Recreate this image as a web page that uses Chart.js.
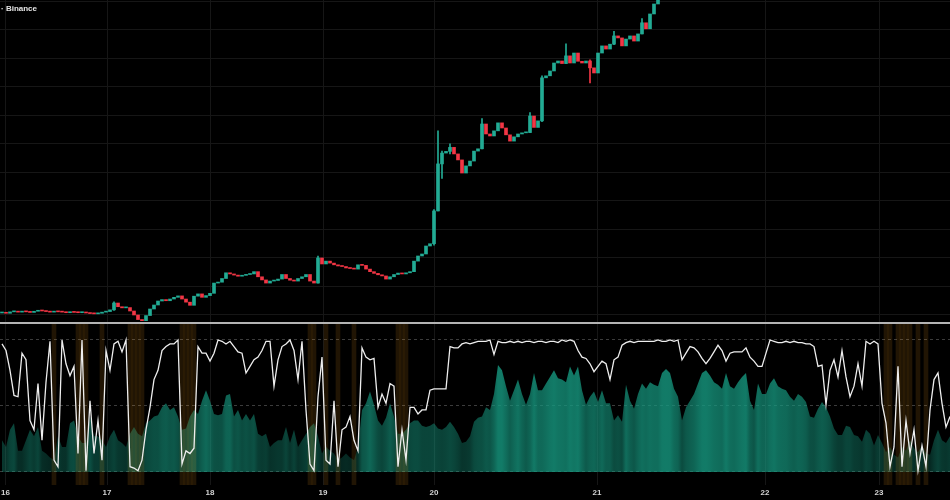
<!DOCTYPE html>
<html>
<head>
<meta charset="utf-8">
<script src="https://cdn.jsdelivr.net/npm/chart.js@4.4.1/dist/chart.umd.min.js"></script>
<style>
  html, body { margin: 0; padding: 0; background: #000; }
  #wrap { position: relative; width: 950px; height: 500px; background: #000; overflow: hidden; }
  #top { position: absolute; left: 0; top: 0; }
  #sep { position: absolute; left: 0; top: 322px; width: 950px; height: 2px; background: #b4b4b4; }
  #bottom { position: absolute; left: 0; top: 324px; }
  #title { position: absolute; left: 1px; top: 4px; color: #e6e6e6; font: 600 8px "Liberation Sans", Arial, sans-serif; }
</style>
</head>
<body>
<div id="wrap">
  <canvas id="top" width="950" height="322"></canvas>
  <div id="sep"></div>
  <canvas id="bottom" width="950" height="176"></canvas>
  <div id="title">· Binance</div>
</div>
<script>
// day labels on the time axis and where they sit (in bar units, 1 bar = 4px)
const dayLabels = ['16', '17', '18', '19', '20', '21', '22', '23'];
const dayPos = [1.375, 26.75, 52.5, 80.75, 108.5, 149.25, 191.25, 219.75];

// candle closes (price pane), open = previous close
const closes = [
  10.9, 10.6, 11.1, 11.3, 11.0, 11.2, 11.1, 10.9, 11.3, 11.6,
  11.4, 11.2, 11.0, 11.3, 11.1, 11.0, 10.8, 11.1, 10.9, 10.8,
  11.0, 10.7, 10.5, 10.4, 10.6, 11.0, 11.2, 11.8, 14.2, 12.9,
  12.5, 12.6, 11.4, 10.0, 8.4, 8.0, 9.8, 12.1, 13.5, 14.9,
  15.4, 15.0, 15.6, 16.2, 16.7, 15.6, 14.5, 13.4, 16.6, 17.4,
  16.2, 16.8, 17.6, 21.2, 21.5, 22.8, 24.8, 24.4, 24.0, 23.6,
  23.9, 24.2, 24.4, 25.2, 23.4, 22.3, 21.2, 21.9, 22.1, 22.6,
  24.2, 22.8, 22.2, 21.9, 22.8, 23.4, 24.2, 21.9, 21.2, 30.0,
  27.9, 28.9, 28.2, 27.6, 27.2, 27.0, 26.5, 26.3, 26.1, 27.6,
  27.4, 26.1, 25.2, 24.6, 24.1, 23.7, 22.6, 23.4, 24.2, 24.7,
  24.4, 24.8, 25.2, 28.9, 30.7, 31.4, 34.2, 35.0, 46.5, 63.0,
  66.8, 67.4, 68.8, 66.5, 64.4, 59.8, 62.3, 64.0, 67.5, 68.3,
  77.0, 73.5, 72.8, 74.6, 77.4, 75.6, 73.2, 71.0, 72.5, 73.5,
  73.9, 74.0, 79.8, 75.8, 78.1, 93.2, 93.9, 95.6, 98.4, 99.1,
  98.2, 100.9, 98.4, 101.9, 99.0, 98.4, 99.1, 96.7, 94.9, 101.9,
  104.4, 103.3, 105.0, 107.9, 107.2, 104.4, 106.8, 107.9, 106.1, 108.6,
  112.5, 110.4, 115.6, 119.1, 123.0, 126.0
];
// [bar, high, low] for the candles with visible wicks
const wicks = [
  [28, 14.6, 11.6], [79, 30.7, 21.2], [108, 47.0, 34.5], [109, 74.6, 46.5],
  [110, 67.5, 57.9], [112, 70.0, 66.5], [120, 78.9, 68.3], [132, 81.0, 74.0],
  [135, 93.9, 77.8], [141, 105.1, 98.2], [147, 99.5, 91.4], [153, 109.5, 104.8],
  [160, 114.0, 108.6]
];

// oscillator (white line), 0..100
const osc = [
  97, 92, 77, 58, 57, 90, 85, 39, 32, 67,
  24, 68, 99, 9, 4, 100, 82, 73, 80, 14,
  100, 1, 54, 14, 39, 9, 92, 77, 97, 99,
  91, 100, 4, 3, 1, 9, 32, 49, 70, 77,
  92, 95, 97, 97, 100, 6, 16, 14, 18, 95,
  90, 90, 84, 90, 100, 99, 97, 99, 95, 91,
  90, 75, 80, 85, 87, 92, 99, 99, 65, 85,
  95, 97, 100, 92, 70, 99, 47, 6, 1, 57,
  87, 9, 6, 54, 4, 32, 34, 42, 24, 16,
  94, 87, 85, 86, 49, 59, 52, 67, 65, 4,
  32, 9, 49, 49, 44, 47, 47, 62, 63, 63,
  63, 63, 95, 94, 94, 97, 98, 97, 98, 99,
  99, 99, 100, 89, 99, 98, 98, 99, 98, 99,
  98, 99, 99, 98, 99, 99, 98, 99, 99, 98,
  100, 99, 100, 99, 92, 87, 86, 82, 76, 80,
  84, 82, 70, 85, 87, 96, 98, 99, 98, 99,
  99, 99, 99, 99, 100, 99, 99, 100, 99, 100,
  85, 90, 95, 94, 91, 86, 82, 86, 91, 96,
  92, 84, 90, 91, 91, 91, 94, 87, 84, 80,
  80, 90, 100, 99, 98, 98, 99, 98, 99, 98,
  98, 97, 97, 95, 80, 81, 51, 77, 85, 72,
  92, 72, 57, 65, 82, 65, 99, 97, 99, 97,
  52, 37, 4, 19, 80, 4, 39, 14, 32, 1,
  20, 4, 47, 70, 75, 52, 34, 42
];

// teal area under the oscillator
const strength = [
  24, 19, 32, 37, 16, 16, 24, 32, 27, 34,
  16, 14, 11, 9, 27, 19, 19, 37, 39, 27,
  22, 22, 42, 27, 27, 24, 19, 27, 32, 24,
  22, 19, 29, 34, 29, 27, 37, 39, 42, 43,
  49, 52, 47, 49, 42, 32, 33, 42, 47, 44,
  54, 62, 54, 44, 43, 44, 58, 59, 42, 47,
  39, 44, 39, 44, 29, 27, 29, 19, 22, 24,
  24, 34, 22, 32, 19, 24, 29, 34, 37, 27,
  14, 19, 16, 14, 9, 11, 14, 11, 9, 19,
  47, 52, 61, 51, 39, 35, 41, 52, 42, 29,
  29, 32, 37, 39, 39, 35, 34, 35, 37, 33,
  32, 34, 38, 34, 29, 22, 23, 27, 38, 41,
  42, 49, 47, 59, 81, 77, 65, 54, 62, 70,
  59, 51, 59, 75, 62, 62, 67, 72, 77, 71,
  70, 68, 80, 73, 80, 62, 51, 57, 61, 53,
  62, 52, 52, 39, 43, 38, 66, 54, 48, 59,
  67, 63, 68, 66, 65, 75, 78, 75, 63, 57,
  39, 49, 54, 59, 67, 75, 77, 73, 68, 66,
  63, 75, 65, 63, 68, 72, 75, 54, 47, 67,
  59, 59, 67, 71, 65, 63, 62, 57, 54, 59,
  57, 53, 42, 41, 48, 53, 49, 42, 33, 28,
  28, 35, 34, 28, 27, 23, 32, 29, 20, 28,
  22, 15, 19, 13, 11, 19, 16, 24, 18, 15,
  20, 14, 13, 24, 32, 24, 22, 27
];

// bars with the orange background highlight
const shaded = [13, 19, 20, 21, 25, 32, 33, 34, 35, 45, 46, 47, 48, 77, 78, 81, 84, 88,
  99, 100, 101, 221, 222, 224, 225, 226, 227, 229, 231];

const UP = '#22ab94';
const DOWN = '#f23645';
const GRID = '#161616';

// build candle pieces
const bodies = [];
const bodyColors = [];
closes.forEach((c, i) => {
  const o = i === 0 ? 10.7 : closes[i - 1];
  bodies.push({ x: i + 0.5, y: [o, c] });
  bodyColors.push(c >= o ? UP : DOWN);
});
const wickData = wicks.map(w => ({ x: w[0] + 0.5, y: [w[2], w[1]] }));
const wickColors = wicks.map(w => bodyColors[w[0]]);

function xAxis(showLabels) {
  return {
    type: 'linear',
    min: 0,
    max: 237.5,
    offset: false,
    grid: { color: GRID, drawTicks: false, offset: false },
    border: { display: false },
    ticks: {
      display: showLabels,
      color: '#d2d2d2',
      font: { size: 8, weight: 'bold', family: 'Liberation Sans' },
      padding: 3,
      maxRotation: 0,
      autoSkip: false,
      callback: v => {
        const k = dayPos.indexOf(v);
        return k >= 0 ? dayLabels[k] : '';
      }
    },
    afterBuildTicks: s => { s.ticks = dayPos.map(v => ({ value: v })); },
    afterFit: s => {
      s.height = showLabels ? 15 : 0;
      s.paddingLeft = 0;
      s.paddingRight = 0;
    }
  };
}

new Chart(document.getElementById('top'), {
  type: 'bar',
  data: {
    datasets: [
      { data: wickData, backgroundColor: wickColors, barThickness: 1, grouped: false, order: 1 },
      { data: bodies, backgroundColor: bodyColors, barThickness: 3, minBarLength: 1, grouped: false, order: 0 }
    ]
  },
  options: {
    responsive: false,
    animation: false,
    layout: { padding: 0 },
    plugins: { legend: { display: false }, tooltip: { enabled: false } },
    scales: {
      x: xAxis(false),
      y: {
        min: 7.54,
        max: 120.5,
        ticks: { display: false },
        grid: { color: GRID, drawTicks: false },
        border: { display: false },
        afterBuildTicks: s => {
          const t = [];
          for (let v = 10; v <= 120; v += 10) t.push({ value: v });
          s.ticks = t;
        },
        afterFit: s => { s.width = 0; }
      }
    }
  }
});

const oscData = osc.map((v, i) => ({ x: i + 0.5, y: v }));
const strengthData = strength.map((v, i) => ({ x: i + 0.5, y: v }));
const shadeData = shaded.map(i => ({ x: i + 0.5, y: [-10, 113] }));

// horizontal gradient, brighter where the area is taller
function tealFill(ctx) {
  const chart = ctx.chart;
  const area = chart.chartArea;
  if (!area || !chart.scales.x) return 'rgba(20,140,118,0.5)';
  const g = chart.ctx.createLinearGradient(area.left, 0, area.right, 0);
  strength.forEach((v, i) => {
    const px = chart.scales.x.getPixelForValue(i + 0.5);
    const pos = Math.min(1, Math.max(0, (px - area.left) / area.width));
    const a = Math.min(0.82, 0.16 + v / 115);
    g.addColorStop(pos, 'rgba(22,150,126,' + a.toFixed(2) + ')');
  });
  return g;
}

new Chart(document.getElementById('bottom'), {
  type: 'line',
  data: {
    datasets: [
      { type: 'line', data: oscData, borderColor: '#eeeeee', borderWidth: 1.3, pointRadius: 0, tension: 0, order: 0 },
      { type: 'bar', data: shadeData, backgroundColor: 'rgba(255,160,30,0.13)', barThickness: 4, grouped: false, order: 1 },
      { type: 'line', data: strengthData, borderWidth: 0, pointRadius: 0, tension: 0, fill: { value: 0 }, backgroundColor: tealFill, order: 2 }
    ]
  },
  options: {
    responsive: false,
    animation: false,
    layout: { padding: 0 },
    plugins: { legend: { display: false }, tooltip: { enabled: false } },
    scales: {
      x: xAxis(true),
      y: {
        min: -9.85,
        max: 112.1,
        ticks: { display: false },
        grid: { color: '#3c3c3c', drawTicks: false },
        border: { display: false, dash: [3, 3] },
        afterBuildTicks: s => { s.ticks = [0, 50, 100].map(v => ({ value: v })); },
        afterFit: s => { s.width = 0; }
      }
    }
  }
});
</script>
</body>
</html>
